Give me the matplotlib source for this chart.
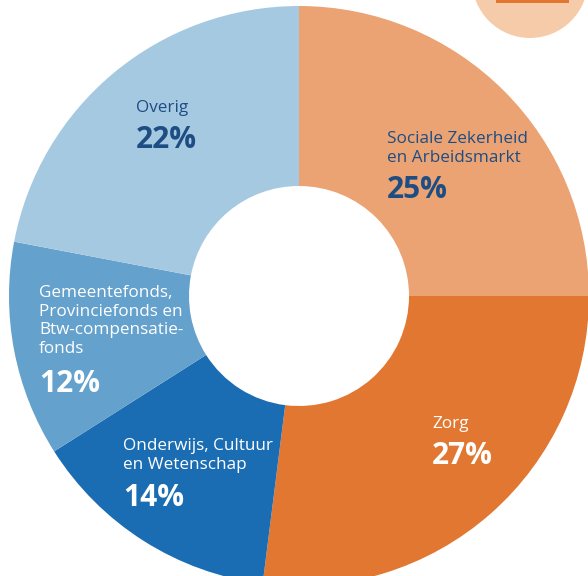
import matplotlib.pyplot as plt
from matplotlib.patches import Circle, Rectangle

# aandeel per begrotingsterrein (%)
categories = ['Sociale Zekerheid\nen Arbeidsmarkt', 'Zorg',
              'Onderwijs, Cultuur\nen Wetenschap',
              'Gemeentefonds,\nProvinciefonds en\nBtw-compensatie-\nfonds',
              'Overig']
shares = [25, 27, 14, 12, 22]
colors = ['#EBA373', '#E17731', '#1B6DB3', '#64A1CD', '#A6C9E2']
text_colors = ['#1E4D84', 'white', 'white', 'white', '#1E4D84']
# linkerbovenhoek van elk label in pixels (x, y vanaf boven)
label_pos = [(387, 131), (432, 416), (123, 438), (39, 285), (136, 100)]

W, H = 588, 576
fig = plt.figure(figsize=(W / 100, H / 100), dpi=100)
ax = fig.add_axes([0, 0, 1, 1])

cx, cy, R = 299, H - 296, 290
ax.pie(shares, colors=colors, startangle=90, counterclock=False,
       radius=R, center=(cx, cy),
       wedgeprops=dict(width=R - 110, linewidth=0))

# klein element rechtsboven
ax.add_patch(Circle((530, H + 20), 58, color='#F6CBA9', lw=0))
ax.add_patch(Rectangle((496, H - 3), 73, 3, color='#E17731', lw=0))

ax.set_xlim(0, W)
ax.set_ylim(0, H)
ax.set_aspect('auto')
ax.axis('off')

for cat, val, tc, (x, y) in zip(categories, shares, text_colors, label_pos):
    n = cat.count('\n') + 1
    ax.text(x, H - y, cat, color=tc, fontsize=12.3, family='Open Sans',
            ha='left', va='top', linespacing=1.22)
    ax.text(x, H - y - (n - 1) * 19.5 - 25, f'{val}%', color=tc,
            fontsize=21.5, family='Open Sans', fontweight='bold',
            ha='left', va='top')

fig.savefig('out.png', dpi=100)
